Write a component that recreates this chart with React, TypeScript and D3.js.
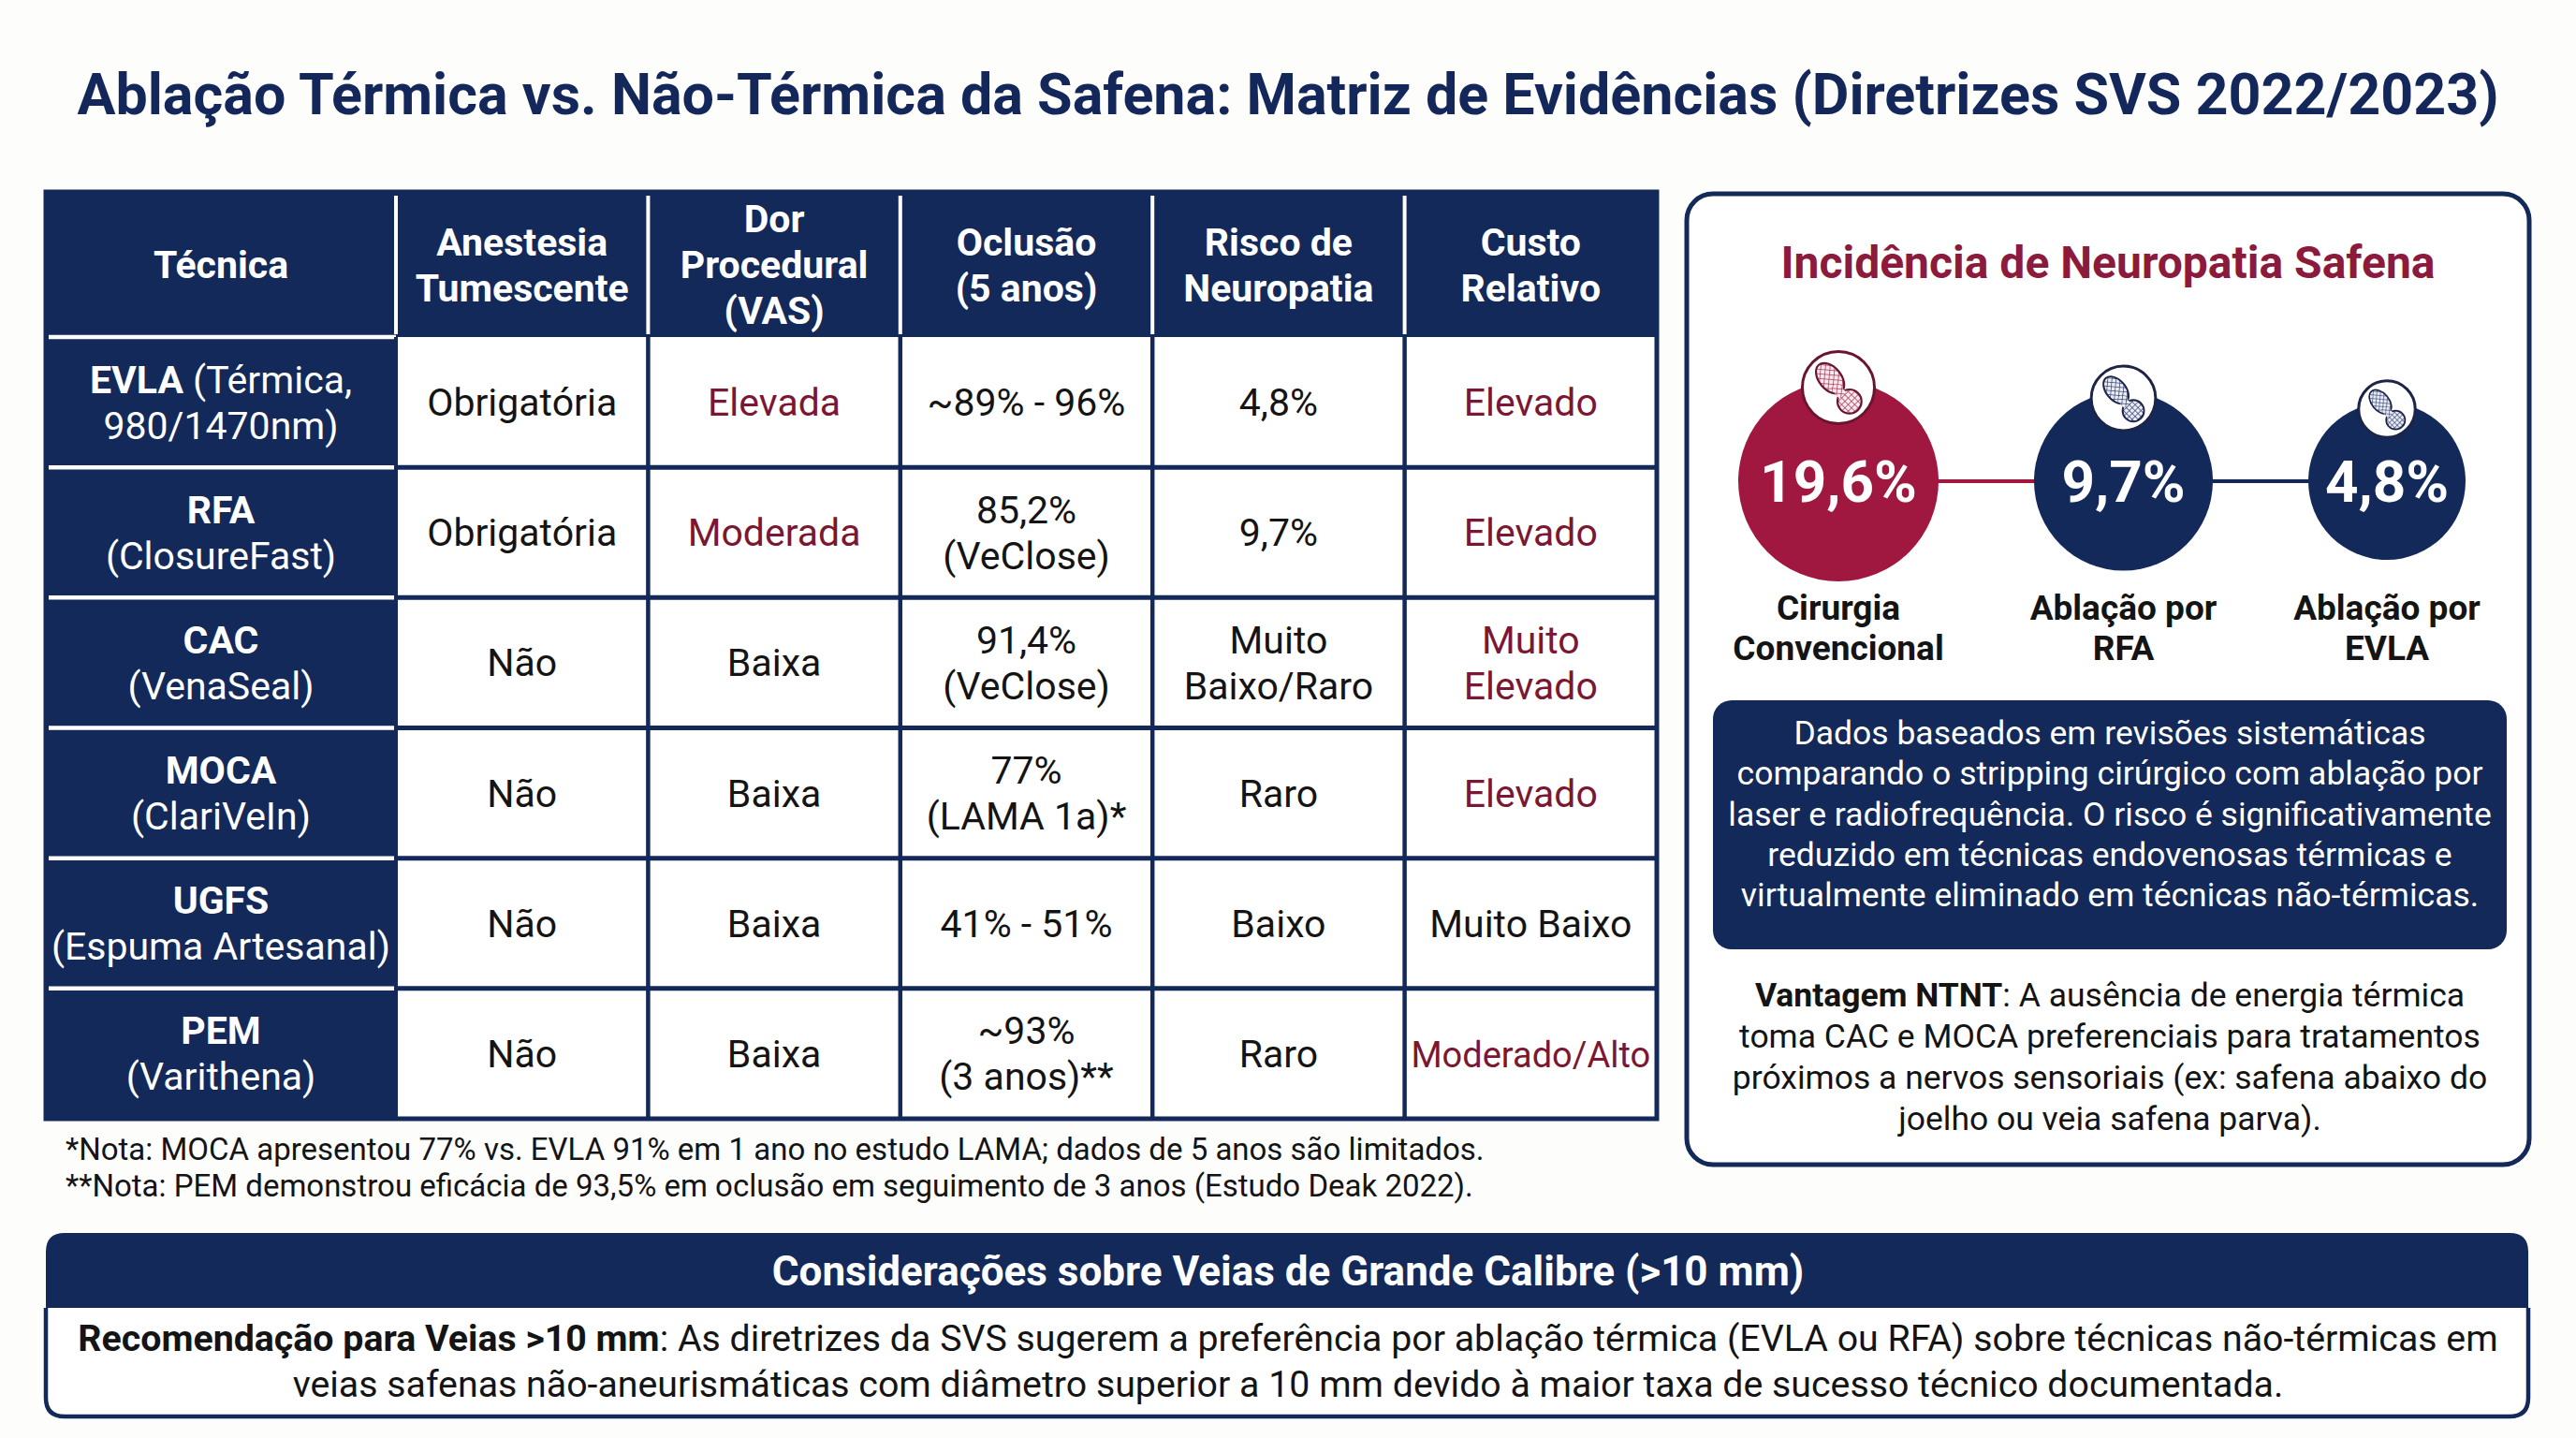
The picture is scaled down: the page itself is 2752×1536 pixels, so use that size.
import React from "react";
import * as d3 from "d3";

// ---------- DATA ----------
const titleText =
  "Ablação Térmica vs. Não-Térmica da Safena: Matriz de Evidências (Diretrizes SVS 2022/2023)";

const headerLines: string[][] = [
  ["Técnica"],
  ["Anestesia", "Tumescente"],
  ["Dor", "Procedural", "(VAS)"],
  ["Oclusão", "(5 anos)"],
  ["Risco de", "Neuropatia"],
  ["Custo", "Relativo"],
];

const techniqueNames = ["EVLA", "RFA", "CAC", "MOCA", "UGFS", "PEM"];
const techniqueInline = [" (Térmica,", "", "", "", "", ""];
const techniqueSecond = ["980/1470nm)", "(ClosureFast)", "(VenaSeal)", "(ClariVeIn)", "(Espuma Artesanal)", "(Varithena)"];

const dataColumnKeys = ["anestesia", "dor", "oclusao", "neuropatia", "custo"];
const anestesia = ["Obrigatória", "Obrigatória", "Não", "Não", "Não", "Não"];
const dor = ["Elevada", "Moderada", "Baixa", "Baixa", "Baixa", "Baixa"];
const dorHighlight = [true, true, false, false, false, false];
const oclusao = ["~89% - 96%", "85,2%|(VeClose)", "91,4%|(VeClose)", "77%|(LAMA 1a)*", "41% - 51%", "~93%|(3 anos)**"];
const neuropatia = ["4,8%", "9,7%", "Muito|Baixo/Raro", "Raro", "Baixo", "Raro"];
const custo = ["Elevado", "Elevado", "Muito|Elevado", "Elevado", "Muito Baixo", "Moderado/Alto"];
const custoHighlight = [true, true, true, true, false, true];

const notes = [
  "*Nota: MOCA apresentou 77% vs. EVLA 91% em 1 ano no estudo LAMA; dados de 5 anos são limitados.",
  "**Nota: PEM demonstrou eficácia de 93,5% em oclusão em seguimento de 3 anos (Estudo Deak 2022).",
];

const panelTitle = "Incidência de Neuropatia Safena";
const neuroKeys = ["cirurgia", "rfa", "evla"];
const neuroLabels: string[][] = [
  ["Cirurgia", "Convencional"],
  ["Ablação por", "RFA"],
  ["Ablação por", "EVLA"],
];
const neuroValues = [19.6, 9.7, 4.8];
const neuroIsRed = [true, false, false];

const infoLines = [
  "Dados baseados em revisões sistemáticas",
  "comparando o stripping cirúrgico com ablação por",
  "laser e radiofrequência. O risco é significativamente",
  "reduzido em técnicas endovenosas térmicas e",
  "virtualmente eliminado em técnicas não-térmicas.",
];

const vantagemBold = "Vantagem NTNT";
const vantagemLines = [
  ": A ausência de energia térmica",
  "toma CAC e MOCA preferenciais para tratamentos",
  "próximos a nervos sensoriais (ex: safena abaixo do",
  "joelho ou veia safena parva).",
];

const bottomTitle = "Considerações sobre Veias de Grande Calibre (>10 mm)";
const bottomBold = "Recomendação para Veias >10 mm";
const bottomLines = [
  ": As diretrizes da SVS sugerem a preferência por ablação térmica (EVLA ou RFA) sobre técnicas não-térmicas em",
  "veias safenas não-aneurismáticas com diâmetro superior a 10 mm devido à maior taxa de sucesso técnico documentada.",
];

// ---------- STYLE ----------
const NAVY = "#13295a";
const CRIMSON = "#a0183f";
const TITLE_RED = "#8c1a3d";
const CELL_RED = "#7b1733";
const INK = "#141414";
const FONT = "Roboto, 'Noto Sans', sans-serif";

const ptLocale = d3.formatLocale({ decimal: ",", thousands: ".", grouping: [3], currency: ["R$", ""] });
const fmtPct = (v: number) => ptLocale.format(".1f")(v) + "%";

function Icon({ cx, cy, r, red, id }: { cx: number; cy: number; r: number; red: boolean; id: string }) {
  const k = r / 39;
  const stroke = red ? "#6a1430" : "#1c2448";
  return (
    <g transform={`translate(${cx},${cy})`}>
      <circle r={r} fill="#fff" stroke={stroke} strokeWidth={3} />
      <g transform={`scale(${k})`}>
        <ellipse cx={-9} cy={-10} rx={12} ry={19} transform="rotate(-40 -9 -10)" fill={`url(#${id})`} stroke={stroke} strokeWidth={2.2} />
        <circle cx={12} cy={15} r={13} fill={`url(#${id})`} stroke={stroke} strokeWidth={2.2} />
        <rect x={-5} y={-4} width={10} height={14} transform="rotate(-40 0 3)" fill={`url(#${id})`} />
      </g>
    </g>
  );
}

export default function App() {
  const W = 2752;
  const H = 1536;

  // table scales
  const tableLeft = 49;
  const firstColRight = 423;
  const tableRight = 1770;
  const headerTop = 205;
  const headerBottom = 360;
  const tableBottom = 1195;
  const colX = d3.scaleBand<string>().domain(dataColumnKeys).range([firstColRight, tableRight]);
  const rowY = d3.scaleBand<string>().domain(techniqueNames).range([headerBottom, tableBottom]);
  const lineH = 49;
  const fs = 41;

  const columns: string[][] = [anestesia, dor, oclusao, neuropatia, custo];
  const highlights: boolean[][] = [
    anestesia.map(() => false),
    dorHighlight,
    oclusao.map(() => false),
    neuropatia.map(() => false),
    custoHighlight,
  ];

  const headerCenters = [
    (tableLeft + firstColRight) / 2,
    ...dataColumnKeys.map((k) => (colX(k) as number) + colX.bandwidth() / 2),
  ];
  const headerMid = (headerTop + headerBottom) / 2;

  // neuropathy circles
  const rScale = d3.scaleLog().domain([4.8, 19.6]).range([84, 107]);
  const radii = neuroValues.map((v) => rScale(v));
  const gap = 102;
  const cxs: number[] = [];
  radii.forEach((r, i) => {
    if (i === 0) cxs.push(1964);
    else cxs.push(cxs[i - 1] + radii[i - 1] + gap + r);
  });
  const cy = 514;
  const panelCx = 2252;

  const lineYs = (center: number, n: number, step: number) =>
    d3.range(n).map((i) => center - ((n - 1) * step) / 2 + i * step);

  return (
    <svg
      width={W}
      height={H}
      viewBox={`0 0 ${W} ${H}`}
      style={{ position: "absolute", left: 0, top: 0, background: "#fdfdfc" }}
      fontFamily={FONT}
    >
      <defs>
        <pattern id="hatchRed" width="5" height="5" patternUnits="userSpaceOnUse" patternTransform="rotate(45)">
          <rect width="5" height="5" fill="#fbe9ee" />
          <line x1="0" y1="0" x2="0" y2="5" stroke="#a8405e" strokeWidth="1.6" />
          <line x1="0" y1="0" x2="5" y2="0" stroke="#a8405e" strokeWidth="1.6" />
        </pattern>
        <pattern id="hatchNavy" width="5" height="5" patternUnits="userSpaceOnUse" patternTransform="rotate(45)">
          <rect width="5" height="5" fill="#e9ecf5" />
          <line x1="0" y1="0" x2="0" y2="5" stroke="#34426e" strokeWidth="1.6" />
          <line x1="0" y1="0" x2="5" y2="0" stroke="#34426e" strokeWidth="1.6" />
        </pattern>
      </defs>
      <rect width={W} height={H} fill="#fdfdfc" />

      {/* Title */}
      <text x={W / 2} y={122} textAnchor="middle" fontSize={61} fontWeight={700} fill="#14275a">
        {titleText}
      </text>

      {/* ---------- TABLE ---------- */}
      <rect x={tableLeft} y={headerTop} width={tableRight - tableLeft} height={headerBottom - headerTop} fill={NAVY} />
      <rect x={tableLeft} y={headerBottom} width={firstColRight - tableLeft} height={tableBottom - headerBottom} fill={NAVY} />
      <rect x={firstColRight} y={headerBottom} width={tableRight - firstColRight} height={tableBottom - headerBottom} fill="#fff" />

      {/* header dividers */}
      {dataColumnKeys.map((k) => (
        <line key={"hd" + k} x1={colX(k)} x2={colX(k)} y1={headerTop + 4} y2={headerBottom - 3} stroke="#fff" strokeWidth={4} />
      ))}
      {/* grid lines in data area */}
      {dataColumnKeys.slice(1).map((k) => (
        <line key={"vd" + k} x1={colX(k)} x2={colX(k)} y1={headerBottom} y2={tableBottom} stroke={NAVY} strokeWidth={4.5} />
      ))}
      {techniqueNames.slice(1).map((t) => (
        <line key={"hl" + t} x1={firstColRight} x2={tableRight} y1={rowY(t)} y2={rowY(t)} stroke={NAVY} strokeWidth={5} />
      ))}
      {/* white separators in first column */}
      {techniqueNames.map((t) => (
        <line key={"ws" + t} x1={tableLeft + 3} x2={firstColRight} y1={rowY(t)} y2={rowY(t)} stroke="#fff" strokeWidth={4.5} />
      ))}
      <rect x={tableLeft} y={headerTop} width={tableRight - tableLeft} height={tableBottom - headerTop} fill="none" stroke={NAVY} strokeWidth={5} />
      <line x1={firstColRight} x2={firstColRight} y1={headerBottom} y2={tableBottom} stroke={NAVY} strokeWidth={4} />

      {/* header text */}
      {headerLines.map((lines, ci) => {
        const ys = lineYs(headerMid, lines.length, lineH);
        return lines.map((ln, li) => (
          <text key={`h${ci}-${li}`} x={headerCenters[ci]} y={ys[li] + fs * 0.355} textAnchor="middle" fontSize={fs} fontWeight={700} fill="#fff">
            {ln}
          </text>
        ));
      })}

      {/* first column */}
      {techniqueNames.map((t, i) => {
        const mid = (rowY(t) as number) + rowY.bandwidth() / 2;
        const ys = lineYs(mid, 2, lineH);
        const cx = (tableLeft + firstColRight) / 2;
        return (
          <g key={"tn" + t}>
            <text x={cx} y={ys[0] + fs * 0.355} textAnchor="middle" fontSize={fs} fill="#fff">
              <tspan fontWeight={700}>{t}</tspan>
              {techniqueInline[i] ? <tspan>{techniqueInline[i]}</tspan> : null}
            </text>
            <text x={cx} y={ys[1] + fs * 0.355} textAnchor="middle" fontSize={fs} fill="#fff">
              {techniqueSecond[i]}
            </text>
          </g>
        );
      })}

      {/* data cells */}
      {columns.map((col, ci) =>
        col.map((val, ri) => {
          const lines = val.split("|");
          const mid = (rowY(techniqueNames[ri]) as number) + rowY.bandwidth() / 2;
          const ys = lineYs(mid, lines.length, lineH);
          const cx = (colX(dataColumnKeys[ci]) as number) + colX.bandwidth() / 2;
          const size = val.length > 12 && lines.length === 1 ? 38 : fs;
          return lines.map((ln, li) => (
            <text
              key={`c${ci}-${ri}-${li}`}
              x={cx}
              y={ys[li] + fs * 0.355}
              textAnchor="middle"
              fontSize={size}
              fill={highlights[ci][ri] ? CELL_RED : INK}
            >
              {ln}
            </text>
          ));
        })
      )}

      {/* notes */}
      {notes.map((n, i) => (
        <text key={"note" + i} x={70} y={1239 + i * 39} fontSize={33} fill={INK}>
          {n}
        </text>
      ))}

      {/* ---------- RIGHT PANEL ---------- */}
      <rect x={1802} y={207} width={900} height={1037} rx={28} fill="#fff" stroke={NAVY} strokeWidth={5} />
      <text x={panelCx} y={297} textAnchor="middle" fontSize={48} fontWeight={700} fill={TITLE_RED}>
        {panelTitle}
      </text>

      {/* connectors */}
      {neuroKeys.slice(1).map((k, i) => (
        <line key={"con" + k} x1={cxs[i]} x2={cxs[i + 1]} y1={cy} y2={cy} stroke={neuroIsRed[i] ? CRIMSON : NAVY} strokeWidth={4} />
      ))}
      {neuroKeys.map((k, i) => {
        const r = radii[i];
        const ir = r * 0.36;
        const iy = cy - r + 7;
        return (
          <g key={"nc" + k}>
            <circle cx={cxs[i]} cy={cy} r={r} fill={neuroIsRed[i] ? CRIMSON : NAVY} />
            <Icon cx={cxs[i]} cy={iy} r={ir} red={neuroIsRed[i]} id={neuroIsRed[i] ? "hatchRed" : "hatchNavy"} />
            <text x={cxs[i]} y={cy + 22} textAnchor="middle" fontSize={62} fontWeight={700} fill="#fff">
              {fmtPct(neuroValues[i])}
            </text>
            {neuroLabels[i].map((ln, li) => (
              <text key={li} x={cxs[i]} y={662 + li * 43} textAnchor="middle" fontSize={37} fontWeight={700} fill={INK}>
                {ln}
              </text>
            ))}
          </g>
        );
      })}

      {/* info box */}
      <rect x={1830} y={748} width={848} height={266} rx={20} fill={NAVY} />
      {infoLines.map((ln, i) => (
        <text key={"info" + i} x={2254} y={795 + i * 43.3} textAnchor="middle" fontSize={35.5} fill="#fff">
          {ln}
        </text>
      ))}

      {/* vantagem */}
      {vantagemLines.map((ln, i) => (
        <text key={"van" + i} x={2254} y={1075 + i * 44} textAnchor="middle" fontSize={35.5} fill={INK}>
          {i === 0 ? <tspan fontWeight={700}>{vantagemBold}</tspan> : null}
          {ln}
        </text>
      ))}

      {/* ---------- BOTTOM BOX ---------- */}
      <path
        d={`M49,1397 V1337 Q49,1317 69,1317 H2681 Q2701,1317 2701,1337 V1397 Z`}
        fill={NAVY}
      />
      <path
        d={`M49,1397 V1493 Q49,1513 69,1513 H2681 Q2701,1513 2701,1493 V1397`}
        fill="#fff"
        stroke={NAVY}
        strokeWidth={4.5}
      />
      <text x={1376} y={1373} textAnchor="middle" fontSize={44} fontWeight={700} fill="#fff">
        {bottomTitle}
      </text>
      {bottomLines.map((ln, i) => (
        <text key={"bl" + i} x={1376} y={1443 + i * 49} textAnchor="middle" fontSize={39.3} fill={INK}>
          {i === 0 ? <tspan fontWeight={700}>{bottomBold}</tspan> : null}
          {ln}
        </text>
      ))}
    </svg>
  );
}
